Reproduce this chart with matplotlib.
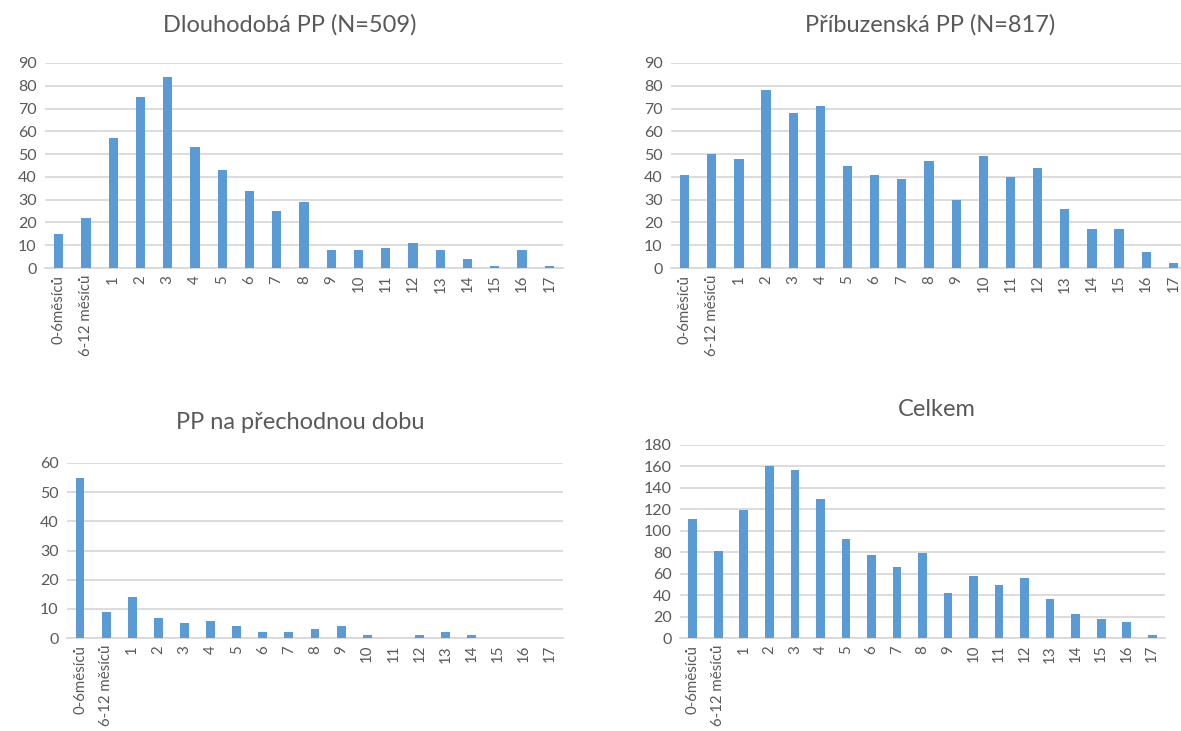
import matplotlib.pyplot as plt
import numpy as np

plt.rcParams['font.family'] = ['Lato', 'DejaVu Sans']

categories = ['0-6měsíců', '6-12 měsíců'] + [str(i) for i in range(1, 18)]

dlouhodoba = [15, 22, 57, 75, 84, 53, 43, 34, 25, 29, 8, 8, 9, 11, 8, 4, 1, 8, 1]
pribuzenska = [41, 50, 48, 78, 68, 71, 45, 41, 39, 47, 30, 49, 40, 44, 26, 17, 17, 7, 2]
prechodna = [55, 9, 14, 7, 5, 6, 4, 2, 2, 3, 4, 1, 0, 1, 2, 1, 0, 0, 0]
celkem = [111, 81, 119, 160, 157, 130, 92, 77, 66, 79, 42, 58, 49, 56, 36, 22, 18, 15, 3]

W, H = 1181, 731
BAR = '#5B9BD5'
GRID = '#D9D9D9'
TXT = '#595959'


def px_axes(fig, left, right, top, bottom):
    return fig.add_axes([left / W, 1 - bottom / H, (right - left) / W, (bottom - top) / H])


def draw(ax, values, ymax, step):
    x = np.arange(len(categories))
    ax.bar(x, values, width=0.34, color=BAR, zorder=3)
    ax.set_xlim(-0.5, len(categories) - 0.5)
    ax.set_ylim(0, ymax)
    ax.set_yticks(np.arange(0, ymax + 1, step))
    ax.set_xticks(x)
    ax.set_xticklabels(categories, rotation=90)
    ax.grid(axis='y', color=GRID, linewidth=1.3, zorder=0)
    for s in ['top', 'left', 'right']:
        ax.spines[s].set_visible(False)
    ax.spines['bottom'].set_color(GRID)
    ax.spines['bottom'].set_linewidth(1.3)
    ax.tick_params(length=0, colors=TXT)
    ax.tick_params(axis='y', pad=6, labelsize=11.5)
    ax.tick_params(axis='x', pad=5, labelsize=10.8)


fig = plt.figure(figsize=(W / 100, H / 100), dpi=100)

ax1 = px_axes(fig, 45, 563, 63, 268)
draw(ax1, dlouhodoba, 90, 10)
ax2 = px_axes(fig, 671, 1187, 63, 268)
draw(ax2, pribuzenska, 90, 10)
ax3 = px_axes(fig, 67, 563, 463, 638)
draw(ax3, prechodna, 60, 10)
ax4 = px_axes(fig, 680, 1165, 445, 638)
draw(ax4, celkem, 180, 20)

titles = [('Dlouhodobá PP (N=509)', 290, 25),
          ('Příbuzenská PP (N=817)', 930, 25),
          ('PP na přechodnou dobu', 300, 423),
          ('Celkem', 937, 410)]
for t, x, y in titles:
    fig.text(x / W, 1 - y / H, t, ha='center', va='center', fontsize=17, color=TXT)

fig.savefig('out.png', dpi=100)
